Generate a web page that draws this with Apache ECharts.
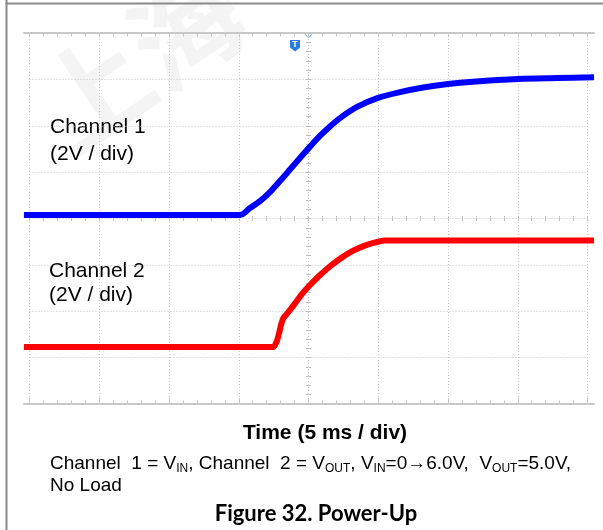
<!DOCTYPE html>
<html>
<head>
<meta charset="utf-8">
<script src="https://cdn.jsdelivr.net/npm/echarts@6/dist/echarts.min.js"></script>
<style>
  html, body { margin: 0; padding: 0; background: #ffffff; }
  #chart { width: 603px; height: 530px; }
</style>
</head>
<body>
<div id="chart"></div>
<script>
// Channel 1 (V_IN): time in ms from the trigger, level in volts above its ground marker
const ch1TimeMs = [-20.4, -4.91, -4.19, -3.48, -2.76, -2.04, -1.33, -0.61, 0.11, 0.82, 1.54, 2.26, 3.48, 4.98, 6.56, 8.21, 10.00, 11.79, 15.02, 17.81, 20.47];
const ch1Volts  = [0, 0, 0.30, 0.60, 0.99, 1.47, 1.96, 2.46, 2.95, 3.41, 3.82, 4.18, 4.66, 5.05, 5.30, 5.50, 5.65, 5.75, 5.87, 5.91, 5.94];

// Channel 2 (V_OUT)
const ch2TimeMs = [-20.4, -2.52, -2.28, -2.11, -1.97, -1.81, -1.45, -0.97, -0.49, -0.01, 0.70, 1.42, 2.14, 2.85, 3.57, 4.29, 5.00, 5.48, 20.47];
const ch2Volts  = [0, 0, 0.23, 0.59, 0.95, 1.24, 1.50, 1.88, 2.27, 2.60, 3.03, 3.42, 3.75, 4.04, 4.26, 4.43, 4.54, 4.59, 4.59];

// Screen setup: 5 ms/div horizontally, 2 V/div on both channels
const msPerDiv = 5;
const voltsPerDiv = 2;
const ch1GroundDiv = 4.075;   // ground marker of channel 1, divisions from the bottom
const ch2GroundDiv = 1.229;   // ground marker of channel 2

const GRID = '#c8c8c8';
const TICK = '#bdbdbd';
const frame = { left: 29.5, top: 33, width: 558, height: 371 };
const plot  = { left: 24,   top: 33, width: 570, height: 371 };
const pxPerMs = frame.width / (8 * msPerDiv);
const centerX = frame.left + frame.width / 2;
const plotMin = (plot.left - centerX) / pxPerMs;
const plotMax = (plot.left + plot.width - centerX) / pxPerMs;

const toScreen = (times, volts, ground) => times.map((t, i) => [t, ground + volts[i] / voltsPerDiv]);

const off = { show: false };
const crossX = (gridIndex, inside) => ({
  type: 'value', gridIndex, min: -4 * msPerDiv, max: 4 * msPerDiv, interval: msPerDiv,
  axisLine: { show: false, onZero: true },
  axisTick: { show: true, inside, length: 2.5, lineStyle: { color: TICK } },
  minorTick: { show: true, splitNumber: 5, length: 2.5, lineStyle: { color: TICK } },
  axisLabel: off, splitLine: off
});
const crossY = (gridIndex, inside) => ({
  type: 'value', gridIndex, min: -4, max: 4, interval: 1,
  axisLine: { show: false, onZero: true },
  axisTick: { show: true, inside, length: 2.5, lineStyle: { color: TICK } },
  minorTick: { show: true, splitNumber: 5, length: 2.5, lineStyle: { color: TICK } },
  axisLabel: off, splitLine: off
});

const chart = echarts.init(document.getElementById('chart'), null, { renderer: 'canvas' });

chart.setOption({
  animation: false,
  backgroundColor: '#ffffff',
  grid: [
    Object.assign({}, frame),
    Object.assign({}, frame),
    Object.assign({}, frame),
    Object.assign({}, plot)
  ],
  xAxis: [
    { // graticule verticals + bottom ticks
      type: 'value', gridIndex: 0, min: -4 * msPerDiv, max: 4 * msPerDiv, interval: msPerDiv, position: 'bottom',
      axisLine: { show: false, onZero: false },
      axisTick: { show: true, inside: true, length: 6, lineStyle: { color: GRID } },
      minorTick: { show: true, splitNumber: 5, length: 3.5, lineStyle: { color: GRID } },
      axisLabel: off,
      splitLine: { show: true, lineStyle: { color: GRID, type: [1, 2], width: 1 } }
    },
    { // top ticks
      type: 'value', gridIndex: 0, min: -4 * msPerDiv, max: 4 * msPerDiv, interval: msPerDiv, position: 'top',
      axisLine: { show: false, onZero: false },
      axisTick: { show: true, inside: true, length: 4.5, lineStyle: { color: GRID } },
      minorTick: { show: true, splitNumber: 5, length: 3.5, lineStyle: { color: GRID } },
      axisLabel: off, splitLine: off
    },
    crossX(1, true),
    crossX(2, false),
    { // trace time axis
      type: 'value', gridIndex: 3, min: plotMin, max: plotMax, position: 'bottom',
      axisLine: { show: true, onZero: false, lineStyle: { color: GRID, width: 2 } },
      axisTick: off, axisLabel: off, splitLine: off
    },
    {
      type: 'value', gridIndex: 3, min: plotMin, max: plotMax, position: 'top',
      axisLine: { show: true, onZero: false, lineStyle: { color: GRID, width: 2 } },
      axisTick: off, axisLabel: off, splitLine: off
    }
  ],
  yAxis: [
    {
      type: 'value', gridIndex: 0, min: 0, max: 8, interval: 1,
      axisLine: { show: false, onZero: false }, axisTick: off, axisLabel: off,
      splitLine: { show: true, lineStyle: { color: GRID, type: [1, 2], width: 1 } }
    },
    crossY(1, true),
    crossY(2, false),
    {
      type: 'value', gridIndex: 3, min: 0, max: 8,
      axisLine: { show: false, onZero: false }, axisTick: off, axisLabel: off, splitLine: off
    }
  ],
  series: [
    {
      name: 'Channel 1', type: 'line', xAxisIndex: 4, yAxisIndex: 3,
      data: toScreen(ch1TimeMs, ch1Volts, ch1GroundDiv),
      showSymbol: false, smooth: 0.3, silent: true,
      lineStyle: { color: '#0000ff', width: 6 }
    },
    {
      name: 'Channel 2', type: 'line', xAxisIndex: 4, yAxisIndex: 3,
      data: toScreen(ch2TimeMs, ch2Volts, ch2GroundDiv),
      showSymbol: false, smooth: 0.15, silent: true,
      lineStyle: { color: '#ff0000', width: 6 }
    }
  ],
  graphic: [
    // faint watermark
    {
      type: 'text', x: 140, y: 60, rotation: 0.6, z: -10, silent: true,
      style: { text: '上海', font: 'bold 110px "Noto Sans CJK SC"', fill: 'rgba(0,0,0,0.045)', align: 'center', verticalAlign: 'middle' }
    },
    // page frame
    { type: 'rect', shape: { x: 5.5, y: 0, width: 2, height: 530 }, style: { fill: '#8a8a8a' }, silent: true },
    { type: 'rect', shape: { x: 5.5, y: 2.5, width: 598, height: 2 }, style: { fill: '#8a8a8a' }, silent: true },
    // trigger position marker
    {
      type: 'polygon', silent: true,
      shape: { points: [[304, 33], [313, 33], [308.5, 38]] },
      style: { fill: '#ffffff', stroke: '#6aaef0', lineWidth: 1 }
    },
    {
      type: 'polygon', silent: true,
      shape: { points: [[290, 40], [300, 40], [300, 47.5], [295, 51.5], [290, 47.5]] },
      style: { fill: '#2a7de1' }
    },
    {
      type: 'text', x: 295, y: 45, silent: true,
      style: { text: 'T', font: 'bold 9px "Liberation Sans"', fill: '#ffffff', align: 'center', verticalAlign: 'middle' }
    },
    // channel labels
    { type: 'text', x: 50, y: 127, silent: true, style: { text: 'Channel 1', font: '21px "Liberation Sans"', fill: '#000', verticalAlign: 'middle' } },
    { type: 'text', x: 50, y: 154, silent: true, style: { text: '(2V / div)', font: '21px "Liberation Sans"', fill: '#000', verticalAlign: 'middle' } },
    { type: 'text', x: 49, y: 271, silent: true, style: { text: 'Channel 2', font: '21px "Liberation Sans"', fill: '#000', verticalAlign: 'middle' } },
    { type: 'text', x: 49, y: 295, silent: true, style: { text: '(2V / div)', font: '21px "Liberation Sans"', fill: '#000', verticalAlign: 'middle' } },
    // axis title
    { type: 'text', x: 325, y: 433, silent: true, style: { text: 'Time (5 ms / div)', font: 'bold 21px "Liberation Sans"', fill: '#000', align: 'center', verticalAlign: 'middle' } },
    // conditions
    {
      type: 'text', x: 50, y: 453, silent: true,
      style: {
        text: '{a|Channel  1 = V}{s|IN}{a|, Channel  2 = V}{s|OUT}{a|, V}{s|IN}{a|=0→6.0V,  V}{s|OUT}{a|=5.0V,}',
        fill: '#000',
        rich: {
          a: { fontFamily: 'Liberation Sans', fontSize: 19, lineHeight: 22, fill: '#000' },
          s: { fontFamily: 'Liberation Sans', fontSize: 12, lineHeight: 12, verticalAlign: 'bottom', fill: '#000' }
        }
      }
    },
    { type: 'text', x: 50, y: 486, silent: true, style: { text: 'No Load', font: '19px "Liberation Sans"', fill: '#000', verticalAlign: 'middle' } },
    // figure caption
    { type: 'text', x: 316, y: 514, silent: true, style: { text: 'Figure 32. Power-Up', font: 'bold 22px Lato', fill: '#000', align: 'center', verticalAlign: 'middle' } }
  ]
});
</script>
</body>
</html>
